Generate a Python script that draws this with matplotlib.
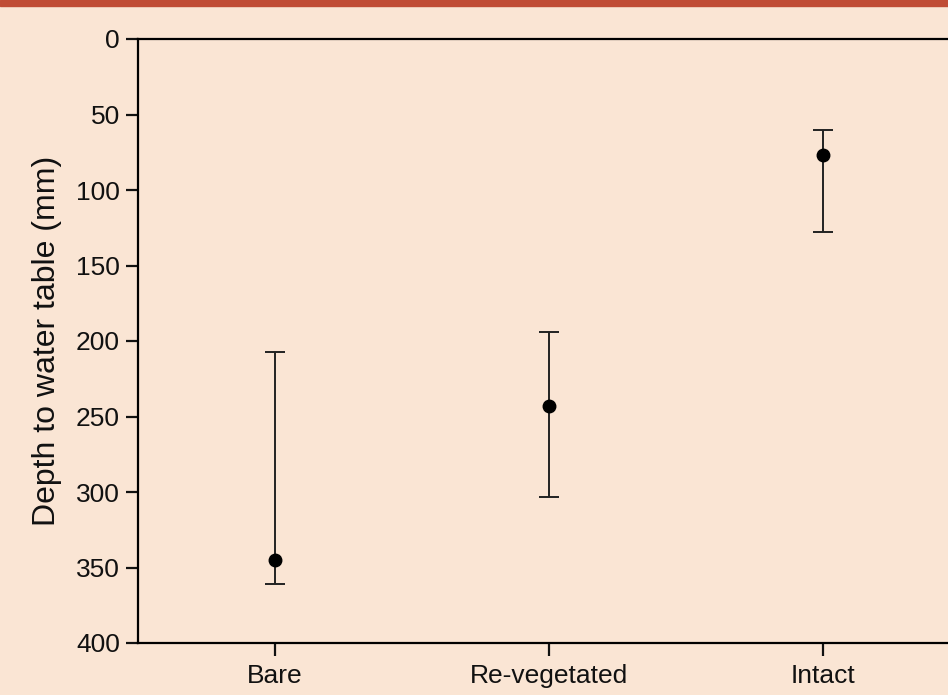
import matplotlib
matplotlib.use("Agg")
import matplotlib.pyplot as plt
from matplotlib.patches import Rectangle

categories = ["Bare", "Re-vegetated", "Intact"]
means = [345, 243, 77]
err_low = [207, 194, 60]    # upper on plot (smaller depth)
err_high = [361, 303, 128]  # lower on plot (larger depth)
yticks = [0, 50, 100, 150, 200, 250, 300, 350, 400]

plt.rcParams['font.family'] = ['Liberation Sans', 'DejaVu Sans']
bg = "#fae5d4"
fig = plt.figure(figsize=(9.48, 6.95), dpi=100, facecolor=bg)
fig.patches.append(Rectangle((0, 1 - 6/695), 1, 6/695, transform=fig.transFigure,
                             color="#c04c35", zorder=10))

ax = fig.add_axes([138/948, 52/695, 822/948, 604/695])
ax.set_facecolor(bg)
x = list(range(len(categories)))
yerr = [[m - lo for m, lo in zip(means, err_low)], [hi - m for m, hi in zip(means, err_high)]]
ax.errorbar(x, means, yerr=yerr, fmt='o', color='black', ecolor='#222222',
            elinewidth=1.4, capsize=7, capthick=1.4, markersize=9, clip_on=False)

ax.set_xlim(-0.5, 2.5)
ax.set_ylim(400, 0)
ax.set_yticks(yticks)
ax.set_xticks(x)
ax.set_xticklabels(categories)
ax.spines['right'].set_visible(False)
for s in ['left', 'top', 'bottom']:
    ax.spines[s].set_linewidth(1.6)
ax.tick_params(axis='both', direction='out', length=9, width=1.6, labelsize=19, pad=4, colors='#111111')
ax.tick_params(axis='x', top=False, pad=6)
ax.set_ylabel("Depth to water table (mm)", fontsize=23, labelpad=10, color='#111111')

fig.savefig("out.png", dpi=100, facecolor=bg)
